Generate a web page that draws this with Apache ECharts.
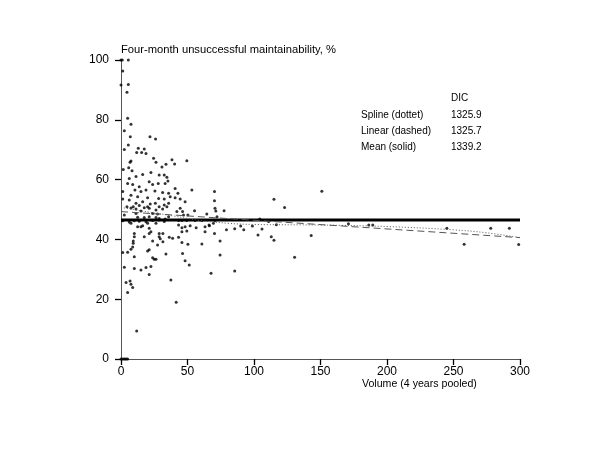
<!DOCTYPE html>
<html>
<head>
<meta charset="utf-8">
<script src="https://cdn.jsdelivr.net/npm/echarts@6/dist/echarts.min.js"></script>
<style>html,body{margin:0;padding:0;background:#fff;}#c{width:600px;height:450px;}</style>
</head>
<body>
<div id="c"></div>
<script>
// Observed hospitals: volume (4 years pooled) and unsuccessful maintainability (%)
const obsVolume = [
 0,1,5.5,1.3,0,5.5,4.5,5,2.5,7.5,21.8,26,7,5.5,2.5,13,11.8,17.5,18.8,15.5,7.5,6.8,24.5,26.3,5.8,8.3,1.7,22.5,30.8,16.3,11.3,6.2,32.5,28.7,5,8.8,13.7,21.2,23.8,28,10.5,18.8,15,1.3,25.5,31.3,7.5,12.5,20,28.3,32.5,6.2,11.3,16.3,22,25.8,1.3,4.5,9.2,13.7,20,28.7,32.5,
 7.5,11.3,17.5,21.2,26.3,31.3,15,11.3,23.8,27.5,2.5,12.5,17.5,21.2,26.3,28.7,1.3,6.2,10,13.7,18.8,23.8,28.7,32.5,7.5,16.3,20,26.3,12.5,15,21.2,22.5,10,17.5,21.2,28.7,28.7,29.5,10,9.2,9.2,23.8,27.5,8.8,7.5,20,1.3,5,21.2,33.8,10,23.8,25,26.3,22.5,18.8,2.5,10,15,21.2,3.8,6.8,7.5,8.8,5,11.8,0,1,2,3,4,5,
 38.3,40.3,33.8,49.5,34.5,35.3,33.2,40.7,53.3,70.3,42.8,35.8,37,40.7,44.5,48.2,35.8,34.5,44.5,70.3,70.7,
 42,46.3,55.3,71.3,64.5,35.8,47,50.3,33.2,43.3,45.8,49.5,55.7,60.7,70.7,43.3,45.8,48.2,52,56.5,63.2,66.5,69.5,31.5,45.8,49.5,63.2,70.3,36.3,38.8,43.3,31.5,45.8,50.3,60.8,74.5,46.3,74.5,48.2,51.3,67.7,37.5,41.5,
 115,123,77.5,72.2,104.3,111,116.8,79.3,85.5,90,92.3,98.8,106,103,113,115,143,171,186.3,189.3,245,278,292,258,299,151,130.5,85.5,66.2
];
const obsPct = [
 100,100,100,96.3,91.6,91.8,89.2,80.5,76.3,78.5,74.3,73.6,74.3,71.6,70.1,70.5,69.1,70.2,68.7,69.1,66.2,65.8,67.1,65.8,64,63,63.4,62.4,64.2,61.7,61,60.4,61.5,61.5,58.7,58.4,57.6,59.3,58.4,58.7,56.5,56.5,56,56,56.2,55.7,54.8,54.3,53.9,53.7,53.5,53.2,52.1,52.6,51.8,52.1,53.5,50.9,50.9,51.3,50.9,50.9,51.5,
 50.5,50.2,50.6,50.4,49.8,50.2,49.5,48.7,48.7,48.5,48.2,47.4,47.3,47.6,47.3,47,46.2,45.8,46.2,46.1,45.9,46.3,46.5,46,45.4,44.6,45.4,45.4,44.2,44.2,43.7,42.6,42,40.9,42,42,40.9,40.2,40.9,39.5,38.7,39.5,38.1,37.5,36.7,36.1,35.6,35.7,36.5,35.1,34.2,33.9,33.4,33.4,30.9,30.6,30.7,30.3,29.8,28.3,25.6,26.1,25,23.9,22.2,9.4,0,0,0,0,0,0,
 66.6,65.2,65.1,66.3,60.8,59.5,58.7,57,56.5,56,55.4,55.4,54.3,53.9,53.5,52.6,52.1,50.9,50.4,52.9,50.4,
 49.3,49.3,49.6,49.5,48.5,47.6,48.2,48.2,46.8,46.3,46.3,46.3,46.3,46.3,46.3,44.8,43.9,44.2,44.6,43.9,44.2,44.6,45.4,42,42.6,42.8,42.6,42,40.7,40.4,40.7,39.2,39,38.4,38.5,39.5,35.3,34.8,32.9,31.4,28.7,26.4,19,
 53.4,50.7,49.6,47.6,46.8,46,44.9,43.2,43.6,44.5,43.2,44.5,43.5,41.5,40.9,39.7,41.3,45.2,44.8,44.8,43.7,43.7,43.7,38.4,38.3,56.1,34,29.4,44.8
];

// Fitted curves
const meanX = [0, 300];
const meanY = [46.5, 46.5];
const linearX = [0, 300];
const linearY = [49.3, 40.6];
const splineX = [0, 20, 40, 60, 80, 100, 150, 200, 250, 275, 300];
const splineY = [50.7, 49.2, 47.8, 46.3, 45.4, 45.0, 44.8, 44.3, 43.2, 42.2, 40.6];

// Tick labels & texts
const xTicks = [0, 50, 100, 150, 200, 250, 300];
const yTicks = [0, 20, 40, 60, 80, 100];
const dicHeader = 'DIC';
const dicModels = ['Spline (dottet)', 'Linear (dashed)', 'Mean (solid)'];
const dicValues = ['1325.9', '1325.7', '1339.2'];
const titleText = 'Four-month unsuccessful maintainability, %';
const xName = 'Volume (4 years pooled)';

const zip = (a, b) => a.map((v, i) => [v, b[i]]);
const FONT = '"Liberation Sans", Arial, Helvetica, sans-serif';

const chart = echarts.init(document.getElementById('c'), null, {renderer: 'canvas'});

const graphics = [
  {type: 'text', left: 121, top: 44, style: {text: titleText, font: '11.2px ' + FONT, fill: '#000'}},
  {type: 'text', left: 362, top: 379, style: {text: xName, font: '10.6px ' + FONT, fill: '#000'}},
  {type: 'text', left: 451, top: 93, style: {text: dicHeader, font: '10px ' + FONT, fill: '#000'}}
];
const rowTops = [110, 126, 142];
dicModels.forEach((m, i) => {
  graphics.push({type: 'text', left: 361, top: rowTops[i], style: {text: m, font: '10px ' + FONT, fill: '#000'}});
  graphics.push({type: 'text', left: 451, top: rowTops[i], style: {text: dicValues[i], font: '10px ' + FONT, fill: '#000'}});
});

const axisCommon = {
  type: 'value',
  axisLine: {show: true, lineStyle: {color: '#555', width: 1}},
  axisTick: {show: true, length: 6, lineStyle: {color: '#000', width: 1.3}},
  splitLine: {show: false}
};

chart.setOption({
  animation: false,
  backgroundColor: '#fff',
  grid: {left: 121, right: 80, top: 60, bottom: 91, containLabel: false, outerBoundsMode: 'none'},
  xAxis: Object.assign({}, axisCommon, {
    min: xTicks[0], max: xTicks[xTicks.length - 1], interval: 50,
    axisLabel: {color: '#000', fontSize: 12, fontFamily: FONT, margin: 7}
  }),
  yAxis: Object.assign({}, axisCommon, {
    min: yTicks[0], max: yTicks[yTicks.length - 1], interval: 20,
    axisLabel: {color: '#000', fontSize: 12, fontFamily: FONT, margin: 12}
  }),
  graphic: graphics,
  series: [
    {
      type: 'scatter', data: zip(obsVolume, obsPct), symbol: 'circle', symbolSize: 3,
      itemStyle: {color: '#000'}, silent: true, z: 3
    },
    {
      type: 'line', data: zip(meanX, meanY), showSymbol: false, symbol: 'none',
      lineStyle: {color: '#000', width: 3, type: 'solid'}, z: 4
    },
    {
      type: 'line', data: zip(linearX, linearY), showSymbol: false, symbol: 'none',
      lineStyle: {color: '#555', width: 1, type: [7, 4]}, z: 4
    },
    {
      type: 'line', data: zip(splineX, splineY), showSymbol: false, symbol: 'none', smooth: 0.4,
      lineStyle: {color: '#555', width: 1, type: [1, 2]}, z: 4
    }
  ]
});
</script>
</body>
</html>
